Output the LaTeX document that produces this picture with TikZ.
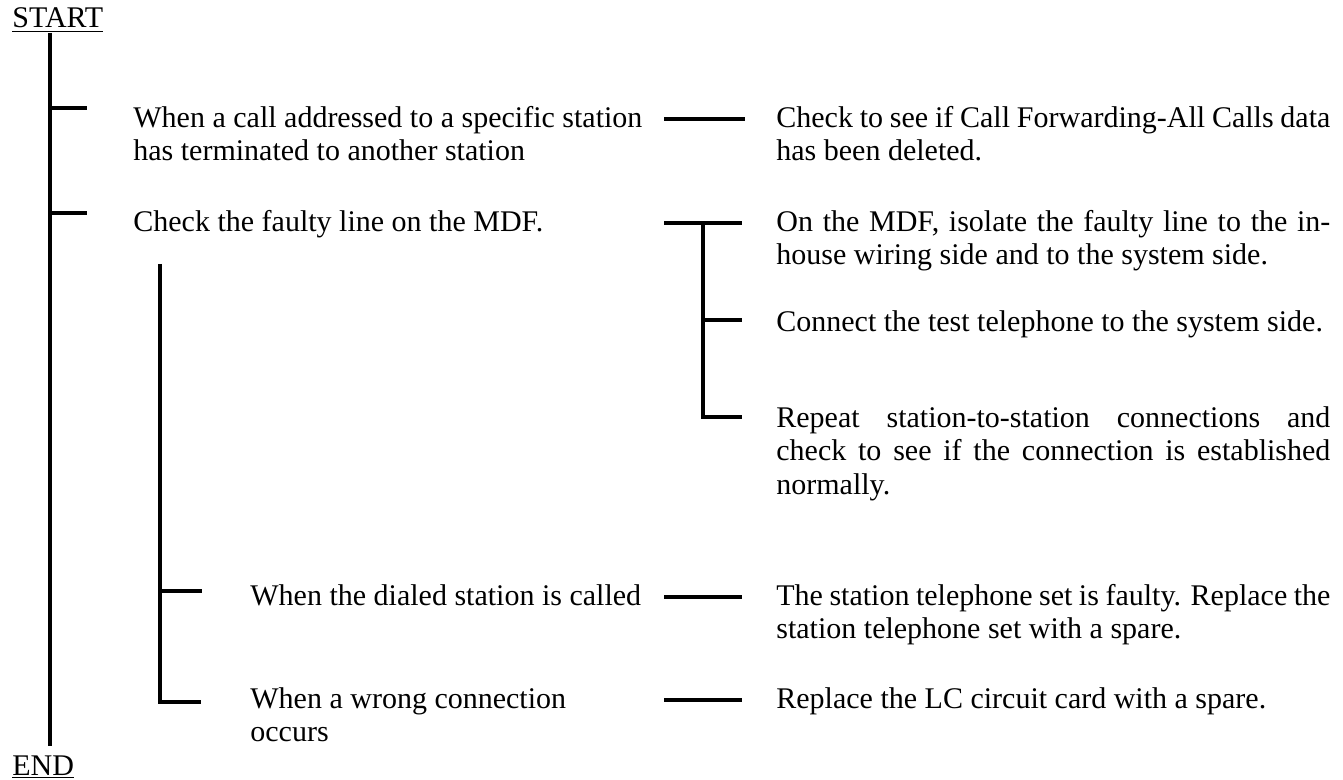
\documentclass[tikz,border=0pt]{standalone}
\usepackage{fontspec}
\setmainfont{Liberation Serif}
\begin{document}
\begin{tikzpicture}[x=0.5pt,y=-0.5pt,
  txt/.style={inner sep=0pt, anchor=base west, font=\fontsize{15}{16.5}\selectfont},
  rtxt/.style={txt, text width=277pt, align=justify},
  ln/.style={line width=1.6pt, line join=miter}]
\useasboundingbox (0,0) rectangle (1343,780);

% texts
\node[txt] (start) at (12,28) {\underline{START}};
\node[txt] (end) at (12,775) {\underline{END}};
\node[txt] (l1) at (133,128) {\begin{tabular}[t]{@{}l@{}}When a call addressed to a specific station\\has terminated to another station\end{tabular}};
\node[txt] (l2) at (133,232) {Check the faulty line on the MDF.};
\node[txt] (l3) at (250,605) {When the dialed station is called};
\node[txt] (l4) at (250,708) {\begin{tabular}[t]{@{}l@{}}When a wrong connection\\occurs\end{tabular}};

\node[rtxt] (r1) at (776,128) {Check to see if Call Forwarding-All Calls data\linebreak has been deleted.};
\node[rtxt] (r2) at (776,232) {On the MDF, isolate the faulty line to the in-\linebreak house wiring side and to the system side.};
\node[rtxt] (r3) at (776,332) {Connect the test telephone to the system side.};
\node[rtxt] (r4) at (776,428) {Repeat station-to-station connections and\linebreak check to see if the connection is established\linebreak normally.};
\node[rtxt] (r5) at (776,605) {The station telephone set is faulty. Replace the\linebreak station telephone set with a spare.};
\node[rtxt] (r6) at (776,708) {Replace the LC circuit card with a spare.};

% coordinates
\coordinate (mtop) at (50,33);
\coordinate (mbot) at (50,746);
\coordinate (b1) at (50,108);   \coordinate (b1e) at (87,108);
\coordinate (b2) at (50,213);   \coordinate (b2e) at (87,213);
\coordinate (stop) at (160,264);
\coordinate (s1) at (160,591);  \coordinate (s1e) at (202,591);
\coordinate (s2) at (160,702);  \coordinate (s2e) at (201,702);
\coordinate (c1a) at (664,119); \coordinate (c1b) at (745,119);
\coordinate (c2a) at (664,223); \coordinate (c2m) at (703,223); \coordinate (c2b) at (742,223);
\coordinate (c3m) at (703,320); \coordinate (c3b) at (742,320);
\coordinate (c4m) at (703,417); \coordinate (c4b) at (742,417);
\coordinate (c5a) at (664,597); \coordinate (c5b) at (742,597);
\coordinate (c6a) at (664,700); \coordinate (c6b) at (742,700);

% trunk and branches
\draw[ln] (mtop) -- (mbot);
\draw[ln] (b1) -- (b1e);
\draw[ln] (b2) -- (b2e);
\draw[ln] (stop) -- (s2) -- (s2e);
\draw[ln] (s1) -- (s1e);

% connectors to actions
\draw[ln] (c1a) -- (c1b);
\draw[ln] (c2a) -- (c2b);
\draw[ln] (c2m) -- (c4m) -- (c4b);
\draw[ln] (c3m) -- (c3b);
\draw[ln] (c5a) -- (c5b);
\draw[ln] (c6a) -- (c6b);
\end{tikzpicture}
\end{document}
